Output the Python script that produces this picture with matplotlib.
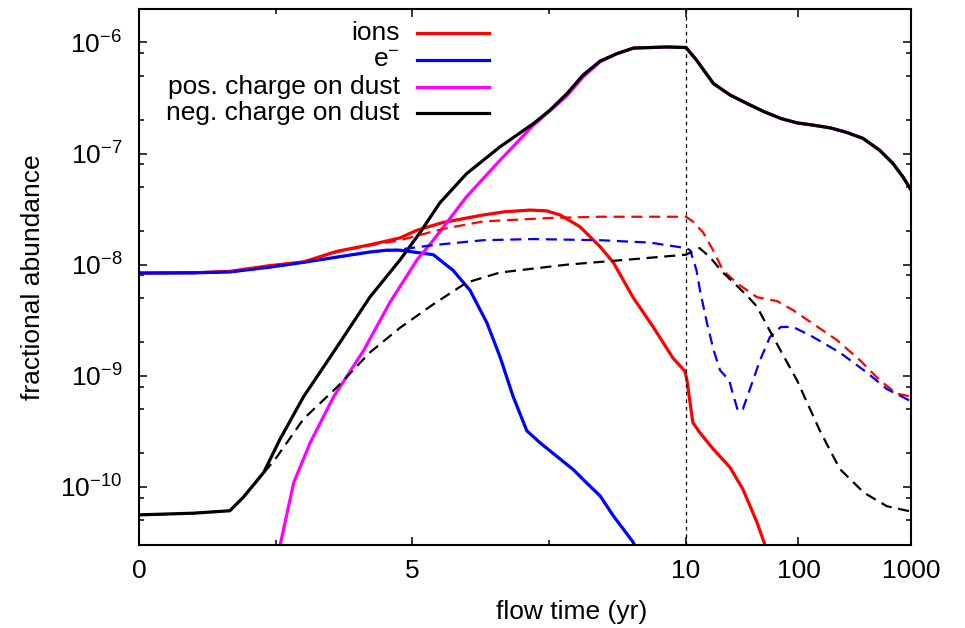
import numpy as np
import matplotlib
matplotlib.use("Agg")
import matplotlib.pyplot as plt
from matplotlib.ticker import LogLocator, NullFormatter

plt.rcParams["font.family"] = ["Liberation Sans", "DejaVu Sans"]
plt.rcParams["mathtext.fontset"] = "custom"
plt.rcParams["mathtext.rm"] = "Liberation Sans"
plt.rcParams["mathtext.default"] = "regular"

# --- abundances vs flow time (yr); solid = main run, dashed = comparison run ---
t_ions = [0, 1.0, 1.66, 2.39, 3.01, 3.62, 4.22, 4.77, 5.08, 5.56, 6.29, 6.7, 7.15,
          7.45, 7.70, 8.06, 8.43, 8.67, 9.03, 9.40, 9.76, 9.98, 10.2, 11.5, 13.2,
          17.4, 24.6, 32.1, 42.7, 50.4, 60]
ions = [8.4e-9, 8.45e-9, 8.7e-9, 9.8e-9, 1.06e-8, 1.32e-8, 1.51e-8, 1.74e-8, 2.04e-8,
        2.4e-8, 2.8e-8, 3.0e-8, 3.1e-8, 3.05e-8, 2.8e-8, 2.2e-8, 1.45e-8, 1.05e-8,
        5.1e-9, 2.75e-9, 1.45e-9, 1.1e-9, 9.1e-10, 3.8e-10, 3.1e-10, 2.2e-10,
        1.5e-10, 9.5e-11, 4.8e-11, 3.0e-11, 1.6e-11]

t_elec = [0, 1.0, 1.66, 2.39, 3.01, 3.62, 4.22, 4.53, 4.77, 5.38, 5.74, 6.05, 6.36,
          6.60, 6.84, 7.09, 7.33, 7.64, 7.94, 8.18, 8.43, 8.67, 9.03, 9.2]
elec = [8.4e-9, 8.45e-9, 8.6e-9, 9.5e-9, 1.05e-8, 1.17e-8, 1.3e-8, 1.35e-8, 1.35e-8,
        1.23e-8, 8.9e-9, 5.9e-9, 3.0e-9, 1.48e-9, 6.5e-10, 3.2e-10, 2.5e-10, 1.88e-10,
        1.43e-10, 1.09e-10, 8.3e-11, 5.5e-11, 3.2e-11, 2.2e-11]

t_pos = [2.5, 2.58, 2.83, 3.13, 3.56, 4.11, 4.59, 5.08, 5.38, 5.99, 6.60, 7.21, 7.82,
         8.12, 8.43, 8.73, 9.04, 9.65, 10.0, 12.45, 17.5, 24.6, 34.7, 49, 69.6, 96.6,
         136, 193, 268, 374, 527, 687, 845, 1000]
pos_dust = [2.0e-11, 3.0e-11, 1.1e-10, 2.5e-10, 6.5e-10, 1.7e-9, 4.6e-9, 1.1e-8,
            1.66e-8, 4.1e-8, 8.7e-8, 1.8e-7, 3.3e-7, 4.9e-7, 6.7e-7, 7.9e-7, 8.9e-7,
            9.1e-7, 9.0e-7, 6.9e-7, 4.27e-7, 3.37e-7, 2.83e-7, 2.39e-7, 2.07e-7,
            1.89e-7, 1.8e-7, 1.7e-7, 1.55e-7, 1.37e-7, 1.07e-7, 8.2e-8, 6.2e-8, 4.7e-8]

t_neg = [0, 1.0, 1.66, 1.91, 2.28, 2.58, 3.01, 3.62, 4.22, 4.77, 5.14, 5.50, 5.99,
         6.60, 7.21, 7.51, 7.82, 8.12, 8.43, 8.73, 9.04, 9.65, 10.0, 12.45, 17.5,
         24.6, 34.7, 49, 69.6, 96.6, 136, 193, 268, 374, 527, 687, 845, 1000]
neg_dust = [5.6e-11, 5.8e-11, 6.1e-11, 8.1e-11, 1.35e-10, 2.7e-10, 6.5e-10, 1.82e-9,
            5.1e-9, 1.1e-8, 1.95e-8, 3.6e-8, 6.6e-8, 1.15e-7, 1.86e-7, 2.45e-7,
            3.45e-7, 5.1e-7, 6.8e-7, 7.9e-7, 8.9e-7, 9.1e-7, 9.0e-7, 6.9e-7,
            4.27e-7, 3.37e-7, 2.83e-7, 2.39e-7, 2.07e-7, 1.89e-7, 1.8e-7, 1.7e-7,
            1.55e-7, 1.37e-7, 1.07e-7, 8.2e-8, 6.2e-8, 4.7e-8]

t_ions_alt = [0, 1.0, 1.66, 2.39, 3.01, 3.62, 4.22, 4.77, 5.56, 6.29, 7.5, 8.4, 10.0,
              11.5, 14.2, 17.4, 21.3, 28.4, 42.7, 64.5, 89.4, 134, 219, 352, 528,
              749, 1000]
ions_alt = [8.4e-9, 8.45e-9, 8.7e-9, 9.8e-9, 1.06e-8, 1.3e-8, 1.49e-8, 1.66e-8,
            2.1e-8, 2.45e-8, 2.63e-8, 2.7e-8, 2.7e-8, 2.45e-8, 1.95e-8, 1.35e-8,
            8.9e-9, 6.8e-9, 5.1e-9, 4.7e-9, 3.9e-9, 2.95e-9, 2.1e-9, 1.38e-9,
            9.1e-10, 6.9e-10, 6.5e-10]

t_elec_alt = [0, 1.0, 1.66, 2.39, 3.01, 3.62, 4.22, 4.77, 5.38, 6.29, 7.2, 8.43, 9.34,
              10.0, 10.9, 12.4, 13.3, 15.4, 17.6, 20.1, 24.2, 26.1, 29, 32, 37, 45.5,
              55.8, 69.6, 89.6, 134, 233, 405, 610, 1000]
elec_alt = [8.4e-9, 8.45e-9, 8.6e-9, 9.5e-9, 1.05e-8, 1.17e-8, 1.3e-8, 1.37e-8,
            1.5e-8, 1.66e-8, 1.7e-8, 1.66e-8, 1.58e-8, 1.41e-8, 1.35e-8, 8.9e-9,
            5.9e-9, 2.95e-9, 1.7e-9, 1.12e-9, 9.1e-10, 6.9e-10, 4.8e-10, 5.0e-10,
            7.6e-10, 1.38e-9, 2.24e-9, 2.75e-9, 2.75e-9, 2.24e-9, 1.62e-9, 1.07e-9,
            7.6e-10, 5.9e-10]

t_neg_alt = [0, 1.0, 1.66, 1.91, 2.28, 2.52, 3.01, 3.62, 4.22, 4.77, 5.38, 5.99, 6.60,
             7.82, 9.03, 10.0, 13.2, 16.3, 21.3, 34.7, 42.7, 59.4, 97, 155, 233, 380,
             610, 1000]
neg_dust_alt = [5.6e-11, 5.8e-11, 6.1e-11, 8.1e-11, 1.33e-10, 1.86e-10, 4.1e-10,
                7.9e-10, 1.62e-9, 2.7e-9, 4.4e-9, 6.9e-9, 8.5e-9, 1.0e-8, 1.12e-8,
                1.23e-8, 1.41e-8, 1.17e-8, 8.5e-9, 5.3e-9, 4.2e-9, 2.24e-9, 9.1e-10,
                3.2e-10, 1.45e-10, 8.9e-11, 6.7e-11, 6.0e-11]

legend_labels = ["ions", "e$^{-}$", "pos. charge on dust", "neg. charge on dust"]
colors = ["#ff0000", "#0000ff", "#ff00ff", "#000000"]

# linear in time up to 10 yr, logarithmic beyond
T_BREAK = 10.0
K_DEC = 2.0567  # linear units per decade in the log part


def fwd(t):
    t = np.asarray(t, dtype=float)
    return np.where(t <= T_BREAK, t,
                    T_BREAK + K_DEC * np.log10(np.maximum(t, T_BREAK) / T_BREAK))


def inv(u):
    u = np.asarray(u, dtype=float)
    return np.where(u <= T_BREAK, u,
                    T_BREAK * 10 ** ((np.minimum(u, 40) - T_BREAK) / K_DEC))


fig = plt.figure(figsize=(9.65, 6.28), dpi=100)
ax = fig.add_axes([139 / 965, 83 / 628, 772 / 965, 536 / 628])

lw_solid = 2.3
lw_dash = 1.6
dash = (0, (5, 3))

solid = [(t_ions, ions), (t_elec, elec), (t_pos, pos_dust), (t_neg, neg_dust)]
for (t, y), c in zip(solid, colors):
    ax.plot(t, y, color=c, lw=lw_solid, solid_joinstyle="round")

dashed = [(t_ions_alt, ions_alt, colors[0]), (t_elec_alt, elec_alt, colors[1]),
          (t_neg_alt, neg_dust_alt, colors[3])]
for t, y, c in dashed:
    ax.plot(t, y, color=c, lw=lw_dash, ls=dash)

ax.axvline(T_BREAK, color="k", lw=0.9, ls=(0, (3, 3)))

ax.set_xscale("function", functions=(fwd, inv))
ax.set_yscale("log")
ax.set_xlim(0, 1000)
ax.set_ylim(3.0e-11, 2.0e-6)

ax.set_xticks([0, 5, 10, 100, 1000])
ax.set_xticklabels(["0", "5", "10", "100", "1000"])
ax.set_xticks([2.5, 7.5], minor=True)
ax.xaxis.set_minor_formatter(NullFormatter())
ax.yaxis.set_major_locator(LogLocator(base=10, subs=[1.0]))
ax.yaxis.set_minor_locator(LogLocator(base=10, subs=[2.0, 5.0, 8.0]))
ax.yaxis.set_minor_formatter(NullFormatter())

ax.tick_params(which="both", direction="in", top=True, right=True, labelsize=19)
ax.tick_params(which="major", length=6, width=1.1)
ax.tick_params(which="minor", length=3.5, width=1.1)
ax.tick_params(axis="x", pad=10)
ax.tick_params(axis="y", pad=12)
for sp in ax.spines.values():
    sp.set_linewidth(1.5)

ax.set_xlabel("flow time (yr)", fontsize=19)
ax.set_ylabel("fractional abundance", fontsize=19)
ax.xaxis.set_label_coords(0.561, -0.103)
ax.yaxis.set_label_coords(-0.122, 0.5)

# key, gnuplot style: text right-aligned, sample line after it
key_y = [0.955, 0.905, 0.854, 0.806]
for lab, c, yk in zip(legend_labels, colors, key_y):
    ax.text(0.338, yk, lab, transform=ax.transAxes, ha="right", va="center",
            fontsize=19)
    ax.plot([0.360, 0.453], [yk, yk], transform=ax.transAxes, color=c,
            lw=lw_solid, clip_on=False)

fig.savefig("out.png", dpi=100)
